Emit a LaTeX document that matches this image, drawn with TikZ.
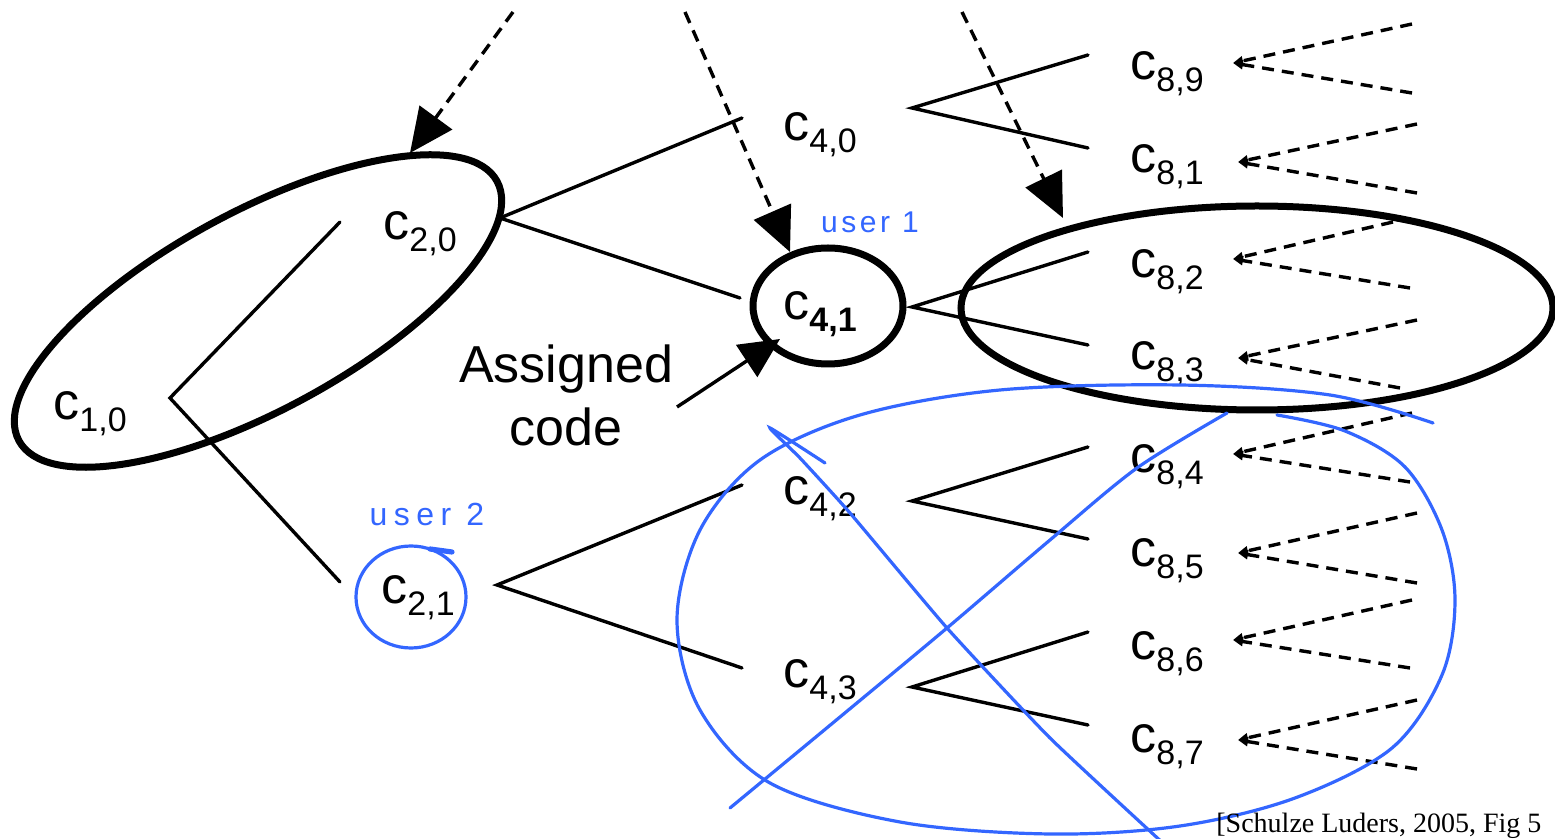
\documentclass[tikz,border=0pt]{standalone}
\usepackage{fontspec}
\setmainfont{Liberation Sans}
\newfontfamily\citefont{Liberation Serif}
\usetikzlibrary{arrows.meta}
\definecolor{penblue}{RGB}{51,102,255}
\newcommand{\cl}[1]{c\raisebox{-6pt}{\fontsize{17}{17}\selectfont #1}}
\begin{document}
\begin{tikzpicture}[x=0.5pt,y=-0.5pt,
  lbl/.style={anchor=base west, inner sep=0pt, font=\fontsize{26}{31}\selectfont},
  edge/.style={line width=1.7pt, line cap=round},
  ring/.style={line width=3.5pt},
  pointer/.style={line width=1.7pt, dash pattern=on 6pt off 4pt, -{Triangle[length=22pt,width=20pt]}},
  feed/.style={line width=1.7pt, dash pattern=on 6pt off 4pt, -{Triangle[length=5pt,width=4.5pt]}},
  pen/.style={draw=penblue, line width=1.6pt, line cap=round},
  hand/.style={text=penblue, inner sep=0pt, font=\fontsize{15}{15}\selectfont}]
\useasboundingbox (0,0) rectangle (1555,839);
\fill[white] (0,0) rectangle (1555,839);

% labels
\node[lbl] (n10) at (53,420) {\cl{1,0}};
\node[lbl] (n20) at (383,240) {\cl{2,0}};
\node[lbl] (n21) at (381,604) {\cl{2,1}};
\node[lbl] (n40) at (783,141) {\cl{4,0}};
\node[lbl] (n41) at (783,320) {\cl{\bfseries 4,1}};
\node[lbl] (n42) at (783,505) {\cl{4,2}};
\node[lbl] (n43) at (783,688) {\cl{4,3}};
\node[lbl] (n89) at (1130,80) {\cl{8,9}};
\node[lbl] (n81) at (1130,173) {\cl{8,1}};
\node[lbl] (n82) at (1130,278) {\cl{8,2}};
\node[lbl] (n83) at (1130,370) {\cl{8,3}};
\node[lbl] (n84) at (1130,473) {\cl{8,4}};
\node[lbl] (n85) at (1130,567) {\cl{8,5}};
\node[lbl] (n86) at (1130,660) {\cl{8,6}};
\node[lbl] (n87) at (1130,753) {\cl{8,7}};

% tree edges
\coordinate (v10) at (170,398);
\coordinate (v20) at (500,218);
\coordinate (v21) at (497,585);
\coordinate (e20) at (340,222);
\coordinate (e21) at (340,582);
\coordinate (e40) at (742,118);
\coordinate (e41) at (740,298);
\coordinate (e42) at (742,485);
\coordinate (e43) at (742,668);
\draw[edge] (e20) -- (v10) -- (e21);
\draw[edge] (e40) -- (v20) -- (e41);
\draw[edge] (e42) -- (v21) -- (e43);
\foreach \v/\a/\b in {108/55/148, 307/252/345, 501/447/539, 687/632/725}{
  \coordinate (vv) at (912,\v);
  \coordinate (ea) at (1088,\a);
  \coordinate (eb) at (1088,\b);
  \draw[edge] (ea) -- (vv) -- (eb);
}

% dashed feeds on the right
\foreach \tx/\ty/\ux/\uy/\lx/\ly in {
  1233/63/1412/24/1412/93,
  1238/162/1417/124/1417/193,
  1233/259/1393/222/1410/288,
  1238/358/1417/320/1400/388,
  1233/454/1412/413/1410/482,
  1238/553/1417/513/1417/583,
  1233/640/1412/600/1410/668,
  1238/740/1417/700/1417/769}{
  \coordinate (tip) at (\tx,\ty);
  \coordinate (up) at (\ux,\uy);
  \coordinate (lo) at (\lx,\ly);
  \draw[feed] (up) -- (tip);
  \draw[feed] (lo) -- (tip);
}

% ellipses
\draw[ring, rotate around={28.5:(258,311)}] (258,311) ellipse [x radius=136pt, y radius=49.5pt];
\draw[ring] (828,306) ellipse [x radius=37.5pt, y radius=29pt];
\draw[ring] (1257,308) ellipse [x radius=148pt, y radius=51pt];

% dashed pointers
\coordinate (s1) at (513,12);
\coordinate (t1) at (410,153);
\coordinate (s2) at (685,12);
\coordinate (t2) at (790,252);
\coordinate (s3) at (962,12);
\coordinate (t3) at (1063,218);
\draw[pointer] (s1) -- (t1);
\draw[pointer] (s2) -- (t2);
\draw[pointer] (s3) -- (t3);

% assigned code
\node[inner sep=0pt, align=center, font=\fontsize{26}{31.5}\selectfont] (asg) at (566,395) {Assigned\\code};
\coordinate (as) at (677,407);
\coordinate (at) at (780,339);
\draw[line width=1.7pt, -{Triangle[length=20pt,width=19pt]}] (as) -- (at);

% blue annotations
\node[hand] (u1) at (870,222) {\addfontfeature{LetterSpace=12}user 1};
\node[hand, font=\fontsize{16}{16}\selectfont] (u2) at (427,514) {\addfontfeature{LetterSpace=20}user 2};
\draw[pen] (411,597) ellipse [x radius=27.5pt, y radius=25.5pt];
\draw[pen, line width=2.6pt] (430,549) -- (452,552);
\draw[pen] plot[smooth, tension=0.55] coordinates {(1433,423) (1330,395) (1180,385) (1000,390) (860,415) (760,460) (700,530) (677,620) (700,710) (770,783) (900,822) (1050,834) (1180,826) (1295,798) (1392,748) (1442,675) (1455,600) (1442,530) (1405,467) (1345,431) (1277,415)};
\draw[pen] plot[smooth, tension=0.5] coordinates {(1227,413) (1137,468) (1050,540) (947,628) (840,717) (730,808)};
\draw[pen] plot[smooth, tension=0.3] coordinates {(825,463) (770,428) (800,458) (850,513) (947,628) (1050,738) (1165,845)};

% citation
\node[anchor=base west, inner sep=0pt, font=\citefont\fontsize{14}{15}\selectfont] (cite) at (1216,833) {[Schulze Luders, 2005, Fig 5};
\end{tikzpicture}
\end{document}
